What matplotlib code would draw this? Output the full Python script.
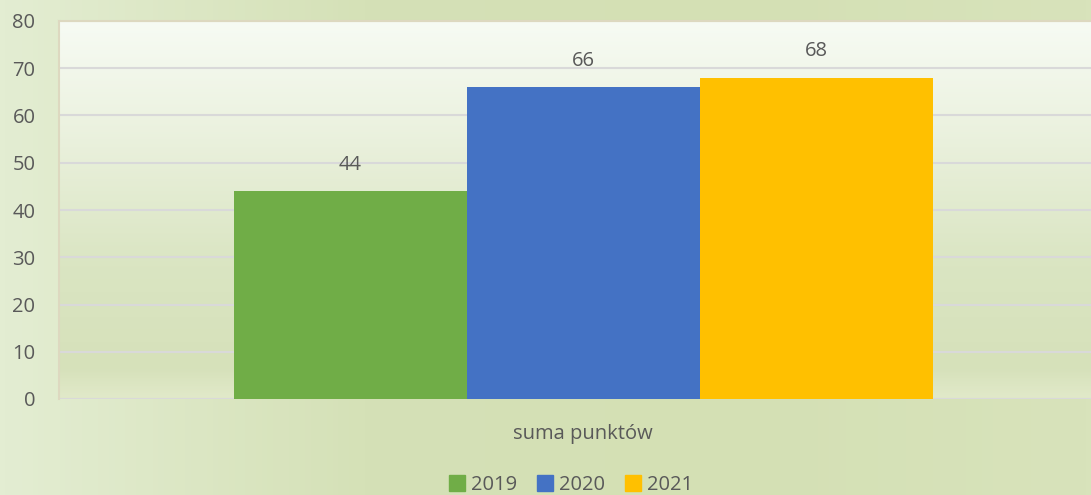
import numpy as np
import matplotlib.pyplot as plt
from matplotlib.colors import LinearSegmentedColormap
from matplotlib.patches import Patch

category = 'suma punktów'
years = ['2019', '2020', '2021']
values = [44, 66, 68]
colors = ['#70ad47', '#4472c4', '#ffc000']
yticks = [0, 10, 20, 30, 40, 50, 60, 70, 80]

plt.rcParams['font.family'] = ['Open Sans', 'DejaVu Sans']
txt_color = '#595959'
fs = 14.5

fig = plt.figure(figsize=(10.91, 4.95), dpi=100)

# outer background, lighter on the left
bg = fig.add_axes([0, 0, 1, 1], zorder=-10)
grad = np.tile(np.linspace(0, 1, 200), (10, 1))
cm_bg = LinearSegmentedColormap.from_list('bg', ['#e3edd2', '#d5e1b7', '#d4e0b4', '#d8e3bb'])
bg.imshow(grad, aspect='auto', cmap=cm_bg, extent=[0, 1, 0, 1])
bg.axis('off')

W, H = 1091, 495
ax = fig.add_axes([59 / W, (H - 399) / H, 1048 / W, 378 / H])

# plot area gradient, white at top to green below
vg = np.linspace(1, 0, 200).reshape(-1, 1)
cm_pa = LinearSegmentedColormap.from_list(
    'pa', [(0, '#e1e9c9'), (0.08, '#d6e1ba'), (0.35, '#dae5c2'), (0.75, '#edf3e2'), (1, '#f7fbf4')])
ax.imshow(vg, aspect='auto', cmap=cm_pa, extent=[-0.5, 0.5, 0, 80], zorder=0, origin='upper')

bw = 233 / 1048
offsets = [-bw, 0, bw]
for i in range(len(years)):
    ax.bar(offsets[i], values[i], width=bw, color=colors[i], zorder=3, label=years[i])
    ax.text(offsets[i], values[i] + 5.6, str(values[i]), ha='center', va='center',
            fontsize=fs, color=txt_color, zorder=4)

ax.set_xlim(-0.5, 0.5)
ax.set_ylim(0, 80)
ax.set_yticks(yticks)
ax.yaxis.grid(True, color='#d9d9d9', lw=1.5, zorder=1)
ax.set_xticks([0])
ax.set_xticklabels([category])
ax.tick_params(axis='x', length=0, pad=18, labelsize=fs, labelcolor=txt_color)
ax.tick_params(axis='y', length=0, pad=17, labelsize=fs, labelcolor=txt_color)
for s in ['right', 'bottom']:
    ax.spines[s].set_visible(False)
ax.spines['left'].set_color('#ddd8c0')
ax.spines['top'].set_color('#ddd8c0')
ax.spines['left'].set_linewidth(1.5)
ax.spines['top'].set_linewidth(1.5)
ax.axhline(0, color='#d9d9d9', lw=2, zorder=2)

handles = [Patch(color=colors[i], label=years[i]) for i in range(len(years))]
fig.legend(handles=handles, loc='center', bbox_to_anchor=(571 / W, 1 - 485 / H), ncol=3,
           frameon=False, fontsize=fs, handlelength=0.8, handleheight=0.8,
           handletextpad=0.3, columnspacing=1.0, labelcolor=txt_color)

fig.savefig('out.png', dpi=100)
